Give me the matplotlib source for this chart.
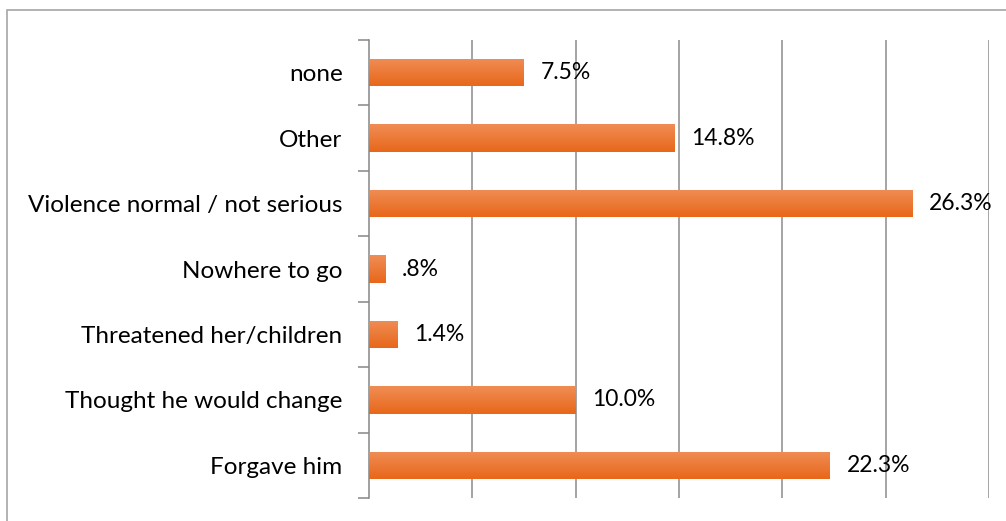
import numpy as np
import matplotlib.pyplot as plt
from matplotlib.patches import Rectangle
from matplotlib.colors import LinearSegmentedColormap

categories = [
    "none",
    "Other",
    "Violence normal / not serious",
    "Nowhere to go",
    "Threatened her/children",
    "Thought he would change",
    "Forgave him",
]
values = [7.5, 14.8, 26.3, 0.8, 1.4, 10.0, 22.3]
value_labels = ["7.5%", "14.8%", "26.3%", ".8%", "1.4%", "10.0%", "22.3%"]

plt.rcParams["font.family"] = ["Lato", "DejaVu Sans"]

fig = plt.figure(figsize=(10.06, 5.21), dpi=100)
ax = fig.add_axes([369 / 1006, 1 - 498 / 521, 620 / 1006, 458 / 521])

# outer chart border (right and bottom fall off the picture)
fig.patches.append(Rectangle((7 / 1006, -0.1), 1.2, 1 - 10 / 521 + 0.1,
                             transform=fig.transFigure, fill=False,
                             edgecolor="#a6a6a6", linewidth=1.2))

y = np.arange(len(categories))
bars = ax.barh(y, values, height=0.42, color="#ee7a30", zorder=2)

# vertical gradient on every bar
grad = np.linspace(0, 1, 100).reshape(-1, 1)
cmap = LinearSegmentedColormap.from_list("og", ["#e8671a", "#f08d55"])
for b in bars:
    x0, y0, w, h = b.get_x(), b.get_y(), b.get_width(), b.get_height()
    im = ax.imshow(grad, cmap=cmap, aspect="auto", extent=(x0, x0 + w, y0 + h, y0),
                   origin="lower", zorder=3)
    im.set_clip_path(b)

for yi, v, lab in zip(y, values, value_labels):
    ax.text(v + 0.8, yi, lab, va="center", ha="left", fontsize=16.5, color="#000000", zorder=4)

ax.set_xlim(0, 30)
ax.set_ylim(len(categories) - 0.5, -0.5)
ax.set_xticks([5, 10, 15, 20, 25, 30])
ax.set_xticklabels([])
ax.tick_params(axis="x", length=0)
ax.grid(axis="x", color="#8c8c8c", linewidth=1.1, zorder=0)

ax.set_yticks(y)
ax.set_yticklabels(categories, fontsize=17.5)
ax.set_yticks(np.arange(-0.5, len(categories), 1), minor=True)
ax.tick_params(axis="y", which="major", length=0, pad=19)
ax.tick_params(axis="y", which="minor", length=8, color="#868686", width=1.1)

for s in ["top", "right", "bottom"]:
    ax.spines[s].set_visible(False)
ax.spines["left"].set_color("#868686")
ax.spines["left"].set_linewidth(1.1)

fig.savefig("out.png", dpi=100)
